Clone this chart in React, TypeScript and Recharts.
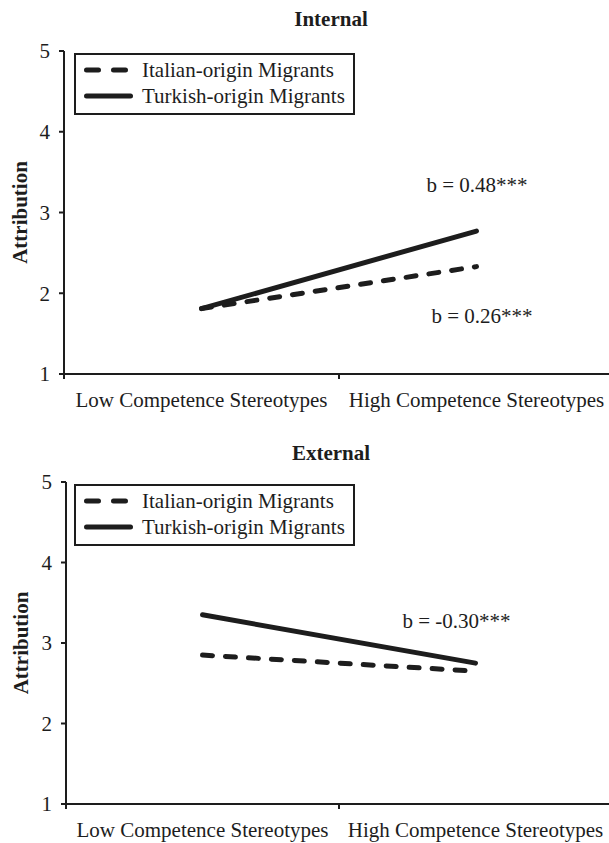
import { LineChart, Line, XAxis, YAxis, Legend } from 'recharts';

const categories = ['Low Competence Stereotypes', 'High Competence Stereotypes'];
const groups = ['Italian-origin Migrants', 'Turkish-origin Migrants'];
const yTicks = [1, 2, 3, 4, 5];

const internalItalian = [1.81, 2.33];
const internalTurkish = [1.81, 2.77];
const externalItalian = [2.85, 2.65];
const externalTurkish = [3.35, 2.75];

// slope notes: [italian, turkish]
const internalNotes = ['b = 0.26***', 'b = 0.48***'];
const externalNotes = ['', 'b = -0.30***'];

const FONT = '"Liberation Serif", "Times New Roman", serif';
const INK = '#1d1d1d';

function CategoryTick(props: any) {
  const { x, y, payload } = props;
  const v = payload.value;
  if (Number.isInteger(v)) {
    return <line x1={x} x2={x} y1={y} y2={y + 5} stroke={INK} strokeWidth={2} />;
  }
  return (
    <text x={x} y={y + 33} textAnchor="middle" fontFamily={FONT} fontSize={21} fill={INK}>
      {categories[Math.floor(v)]}
    </text>
  );
}

function LegendBox() {
  return (
    <div
      style={{
        width: 281,
        height: 62,
        border: `2px solid ${INK}`,
        boxSizing: 'border-box',
        background: '#fff',
      }}
    >
      <svg width={277} height={58} style={{ display: 'block' }}>
        <line x1={10.5} x2={49.5} y1={15} y2={15} stroke={INK} strokeWidth={5} strokeDasharray="12 15" strokeLinecap="round" />
        <text x={66} y={22} fontFamily={FONT} fontSize={21} fill={INK}>{groups[0]}</text>
        <line x1={10.5} x2={54.5} y1={41} y2={41} stroke={INK} strokeWidth={5} strokeLinecap="round" />
        <text x={66} y={48} fontFamily={FONT} fontSize={21} fill={INK}>{groups[1]}</text>
      </svg>
    </div>
  );
}

const note = (text: string, dx: number, dy: number) => (p: any) =>
  p.index === 1 && text ? (
    <text x={p.x + dx} y={p.y + dy} fontFamily={FONT} fontSize={21} fill={INK}>
      {text}
    </text>
  ) : null;

interface PanelProps {
  title: string;
  italian: number[];
  turkish: number[];
  notes: string[];
  width: number;
  height: number;
  top: number;
  axisWidth: number;
  titleY: number;
  noteOffsets: number[][];
}

function Panel({ title, italian, turkish, notes, width, height, top, axisWidth, titleY, noteOffsets }: PanelProps) {
  const data = categories.map((c, i) => ({ pos: i + 0.5, cat: c, italian: italian[i], turkish: turkish[i] }));
  return (
    <LineChart width={width} height={height} data={data} margin={{ top, right: 0, bottom: 0, left: 0 }}>
      <text x={331} y={titleY} textAnchor="middle" fontFamily={FONT} fontSize={21} fontWeight="bold" fill={INK}>
        {title}
      </text>
      <XAxis
        type="number"
        dataKey="pos"
        domain={[0, 2]}
        ticks={[0, 0.5, 1, 1.5, 2]}
        interval={0}
        tickSize={0}
        tickMargin={0}
        tickLine={false}
        tick={<CategoryTick />}
        axisLine={{ stroke: INK, strokeWidth: 2 }}
        height={height - top - (height === 420 ? 323 : 322)}
      />
      <YAxis
        type="number"
        domain={[1, 5]}
        ticks={yTicks}
        interval={0}
        width={axisWidth}
        tickSize={5}
        tickMargin={9}
        tick={{ fill: INK, fontSize: 21, fontFamily: FONT }}
        tickLine={{ stroke: INK, strokeWidth: 2 }}
        axisLine={{ stroke: INK, strokeWidth: 2 }}
        label={{
          value: 'Attribution',
          angle: -90,
          position: 'center',
          dx: axisWidth === 64 ? -12.5 : -12,
          fontFamily: FONT,
          fontSize: 21,
          fontWeight: 'bold',
          fill: INK,
        }}
      />
      <Legend
        layout="vertical"
        align="center"
        verticalAlign="middle"
        wrapperStyle={{ position: 'absolute', left: 74, top: top + 2, width: 281, height: 62 }}
        content={() => <LegendBox />}
      />
      <Line
        dataKey="italian"
        name={groups[0]}
        stroke={INK}
        strokeWidth={5}
        strokeDasharray="10 13"
        strokeLinecap="round"
        dot={false}
        activeDot={false}
        isAnimationActive={false}
        label={note(notes[0], noteOffsets[0][0], noteOffsets[0][1])}
      />
      <Line
        dataKey="turkish"
        name={groups[1]}
        stroke={INK}
        strokeWidth={5}
        strokeLinecap="round"
        dot={false}
        activeDot={false}
        isAnimationActive={false}
        label={note(notes[1], noteOffsets[1][0], noteOffsets[1][1])}
      />
    </LineChart>
  );
}

export default function App() {
  return (
    <div
      style={{
        position: 'fixed',
        left: 0,
        top: 0,
        width: 609,
        height: 843,
        overflow: 'hidden',
        background: '#fff',
      }}
    >
      <div style={{ position: 'absolute', left: 0, top: 0 }}>
        <Panel
          title="Internal"
          italian={internalItalian}
          turkish={internalTurkish}
          notes={internalNotes}
          width={614}
          height={420}
          top={51}
          axisWidth={64}
          titleY={26}
          noteOffsets={[[-45, 56], [-50, -39]]}
        />
      </div>
      <div style={{ position: 'absolute', left: 0, top: 420 }}>
        <Panel
          title="External"
          italian={externalItalian}
          turkish={externalTurkish}
          notes={externalNotes}
          width={612}
          height={423}
          top={62}
          axisWidth={66}
          titleY={40}
          noteOffsets={[[0, 0], [-73, -35]]}
        />
      </div>
    </div>
  );
}
